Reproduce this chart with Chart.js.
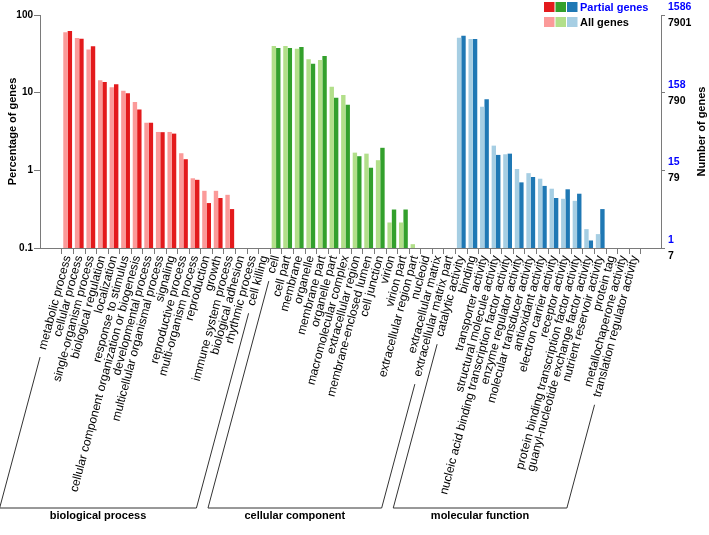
<!DOCTYPE html>
<html>
<head>
<meta charset="utf-8">
<title>GO classification</title>
<script src="https://cdn.jsdelivr.net/npm/chart.js@4/dist/chart.umd.min.js"></script>
<style>
  html, body { margin: 0; padding: 0; background: #fff; }
  canvas { display: block; }
</style>
</head>
<body>
<canvas id="goChart" width="709" height="535"></canvas>
<script>
'use strict';

// GO terms, one list per ontology
const bpTerms = [
  'metabolic process', 'cellular process', 'single-organism process',
  'biological regulation', 'localization', 'response to stimulus',
  'cellular component organization or biogenesis', 'developmental process',
  'multicellular organismal process', 'signaling', 'reproductive process',
  'multi-organism process', 'reproduction', 'growth', 'immune system process',
  'biological adhesion', 'rhythmic process', 'cell killing'
];
const ccTerms = [
  'cell', 'cell part', 'membrane', 'organelle', 'membrane part', 'organelle part',
  'macromolecular complex', 'extracellular region', 'membrane-enclosed lumen',
  'cell junction', 'virion', 'virion part', 'extracellular region part',
  'nucleoid', 'extracellular matrix', 'extracellular matrix part'
];
const mfTerms = [
  'catalytic activity', 'binding', 'transporter activity',
  'structural molecule activity', 'nucleic acid binding transcription factor activity',
  'enzyme regulator activity', 'molecular transducer activity', 'antioxidant activity',
  'electron carrier activity', 'receptor activity',
  'protein binding transcription factor activity',
  'guanyl-nucleotide exchange factor activity', 'nutrient reservoir activity',
  'protein tag', 'metallochaperone activity', 'translation regulator activity'
];
const groupNames = ['biological process', 'cellular component', 'molecular function'];

// percentage of genes (null = below the 0.1 floor, no bar)
const allPct = [
  60, 50.5, 36, 14.4, 11.7, 10.6, 7.6, 4.1, 3.12, 3.12, 1.66, 0.79, 0.545, 0.545, 0.484, null, null, null,
  39.8, 39.8, 36.8, 26.9, 26.3, 11.9, 9.34, 1.69, 1.64, 1.35, 0.213, 0.213, 0.112, null, null, null,
  50.9, 49, 6.6, 2.08, 1.61, 1.04, 0.92, 0.78, 0.58, 0.43, 0.405, 0.175, 0.151, null, null, null
];
const partialPct = [
  62, 49.4, 39.5, 13.7, 12.8, 9.8, 6.05, 4.1, 3.1, 2.97, 1.39, 0.755, 0.379, 0.44, 0.317, null, null, null,
  37.6, 37.6, 38.7, 23.6, 29.6, 8.6, 7.0, 1.52, 1.08, 1.95, 0.313, 0.313, null, null, null, null,
  54, 49, 8.2, 1.58, 1.64, 0.70, 0.82, 0.63, 0.44, 0.57, 0.50, 0.125, 0.317, null, null, null
];

// axis ticks
const pctTicks = [0.1, 1, 10, 100];
const pctTickLabels = ['0.1', '1', '10', '100'];
const partialCountLabels = ['1', '15', '158', '1586'];
const allCountLabels = ['7', '79', '790', '7901'];

const darkColors = ['#e31a1c', '#33a02c', '#1f78b4'];
const lightColors = ['#fb9a99', '#b2df8a', '#a6cee3'];
const axisGray = '#7a7a7a';
const fontFamily = '"Liberation Sans", Arial, Helvetica, sans-serif';

(function(){

  const groups = [bpTerms, ccTerms, mfTerms];
  const categories = [].concat(bpTerms, ccTerms, mfTerms);
  const groupOf = [];
  groups.forEach(function(terms, gi) {
    terms.forEach(function() { groupOf.push(gi); });
  });

  Chart.defaults.font.family = fontFamily;
  Chart.defaults.color = '#000';

  const extras = {
    id: 'goExtras',
    afterDraw: function(chart) {
      const ctx = chart.ctx;
      const area = chart.chartArea;
      const xs = chart.scales.x;
      const y1 = chart.scales.y1;
      ctx.save();

      // blue counts for partial genes, above each right-hand tick
      ctx.font = 'bold 10.5px ' + fontFamily;
      ctx.fillStyle = '#0000ff';
      ctx.textAlign = 'left';
      ctx.textBaseline = 'middle';
      pctTicks.forEach(function(v, i) {
        ctx.fillText(partialCountLabels[i], area.right + 7, y1.getPixelForValue(v) - 8);
      });

      // right axis title, reading upwards
      ctx.save();
      ctx.translate(702, (area.top + area.bottom) / 2);
      ctx.rotate(-Math.PI / 2);
      ctx.font = 'bold 11px ' + fontFamily;
      ctx.fillStyle = '#000';
      ctx.textAlign = 'center';
      ctx.fillText('Number of genes', 0, 0);
      ctx.restore();

      // legend: three swatches per row
      const rows = [
        { colors: darkColors, text: 'Partial genes', textColor: '#0000ff', y: 2 },
        { colors: lightColors, text: 'All genes', textColor: '#000', y: 17 }
      ];
      ctx.font = 'bold 11px ' + fontFamily;
      rows.forEach(function(row) {
        row.colors.forEach(function(c, i) {
          ctx.fillStyle = c;
          ctx.fillRect(544 + i * 11.5, row.y, 10.5, 10);
        });
        ctx.fillStyle = row.textColor;
        ctx.fillText(row.text, 580, row.y + 5.5);
      });

      // group brackets under the tick labels
      const ang = 75 * Math.PI / 180;
      const cosA = Math.cos(ang), sinA = Math.sin(ang);
      const anchorY = area.bottom + 6;
      const baseY = 508;
      const run = (baseY - anchorY) * cosA / sinA;
      ctx.strokeStyle = '#333';
      ctx.lineWidth = 1;
      let start = 0;
      groups.forEach(function(terms, gi) {
        const a = start, b = start + terms.length - 1;
        start += terms.length;
        ctx.font = '12px ' + fontFamily;
        const xa = xs.getPixelForValue(a), xb = xs.getPixelForValue(b);
        const la = ctx.measureText(categories[a]).width + 10;
        const lb = ctx.measureText(categories[b]).width + 10;
        ctx.beginPath();
        ctx.moveTo(xa - la * cosA, anchorY + la * sinA);
        ctx.lineTo(xa - run, baseY);
        ctx.lineTo(xb - run, baseY);
        ctx.lineTo(xb - lb * cosA, anchorY + lb * sinA);
        ctx.stroke();

        ctx.font = 'bold 11px ' + fontFamily;
        ctx.fillStyle = '#000';
        ctx.textAlign = 'center';
        ctx.fillText(groupNames[gi], (xa + xb) / 2 - run, 516);
      });

      ctx.restore();
    }
  };

  function logTicks(scale) {
    scale.ticks = pctTicks.map(function(v) { return { value: v }; });
  }

  new Chart(document.getElementById('goChart'), {
    type: 'bar',
    data: {
      datasets: [{
        label: 'All genes',
        data: allPct.map(function(v, i) { return { x: i, y: v }; }),
        backgroundColor: groupOf.map(function(g) { return lightColors[g]; }),
        categoryPercentage: 0.76,
        barPercentage: 1
      }, {
        label: 'Partial genes',
        data: partialPct.map(function(v, i) { return { x: i, y: v }; }),
        backgroundColor: groupOf.map(function(g) { return darkColors[g]; }),
        categoryPercentage: 0.76,
        barPercentage: 1
      }]
    },
    options: {
      responsive: false,
      devicePixelRatio: 1,
      animation: false,
      layout: { padding: { top: 15, right: 0, bottom: 0, left: 0 } },
      plugins: {
        legend: { display: false },
        tooltip: { enabled: false }
      },
      scales: {
        x: {
          type: 'linear',
          position: 'bottom',
          offset: false,
          min: -2.39,
          max: 51.25,
          grid: { drawOnChartArea: false, tickLength: 6, offset: true, color: axisGray },
          border: { color: axisGray },
          ticks: {
            autoSkip: false,
            minRotation: 75,
            maxRotation: 75,
            padding: 0,
            font: { size: 12 },
            callback: function(v) { return categories[v]; }
          },
          afterBuildTicks: function(scale) {
            scale.ticks = categories.map(function(c, i) { return { value: i }; });
          },
          afterFit: function(scale) { scale.height = 287; }
        },
        y: {
          type: 'logarithmic',
          position: 'left',
          min: 0.1,
          max: 100,
          grid: { drawOnChartArea: false, tickLength: 6, color: axisGray },
          border: { color: axisGray },
          ticks: {
            padding: 1,
            font: { size: 10, weight: 'bold' },
            callback: function(v) { return pctTickLabels[pctTicks.indexOf(v)]; }
          },
          afterBuildTicks: logTicks,
          title: {
            display: true,
            text: 'Percentage of genes',
            font: { size: 11, weight: 'bold' },
            padding: { top: 6, bottom: 0 }
          },
          afterFit: function(scale) { scale.width = 40; }
        },
        y1: {
          type: 'logarithmic',
          position: 'right',
          min: 0.1,
          max: 100,
          grid: { drawOnChartArea: false, tickLength: 4, color: axisGray },
          border: { color: axisGray },
          ticks: {
            padding: 3,
            labelOffset: 8,
            font: { size: 10.5, weight: 'bold' },
            callback: function(v) { return allCountLabels[pctTicks.indexOf(v)]; }
          },
          afterBuildTicks: logTicks,
          afterFit: function(scale) { scale.width = 48; }
        }
      }
    },
    plugins: [extras]
  });

}());
</script>
</body>
</html>
